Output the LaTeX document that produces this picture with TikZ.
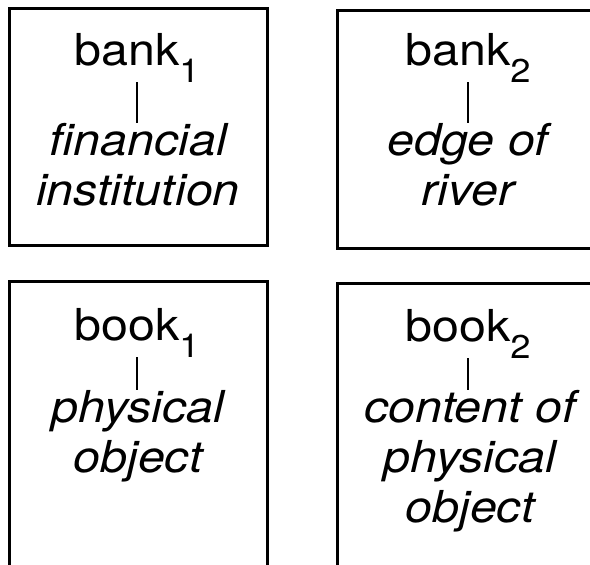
\documentclass[tikz,border=0pt]{standalone}
\usepackage{fontspec}
\setmainfont{TeX Gyre Heros}[FakeStretch=1.1]
\newcommand\sensenum[1]{\raisebox{-8.5pt}{\fontsize{16.5}{16.5}\selectfont #1}}

\begin{document}
\begin{tikzpicture}[x=0.5pt,y=-0.5pt,
    word/.style={anchor=base,inner sep=0pt,font=\fontsize{22}{25}\selectfont},
    gloss/.style={anchor=north,inner sep=0pt,align=center,font=\fontsize{22}{25}\selectfont\itshape},
    frame/.style={line width=1.5pt},
    tick/.style={line width=0.8pt}]
    \useasboundingbox (0,0) rectangle (590,564);
    \clip (0,0) rectangle (590,564);
    % the four sense boxes
    \draw[frame] (9,8) rectangle (267,245);
    \draw[frame] (337,10) rectangle (602,248);
    \draw[frame] (9,281) rectangle (267,600);
    \draw[frame] (337,283) rectangle (602,600);
    % words and their senses
    \node[word] (bank1) at (137,65) {bank\sensenum{1}};
    \node[gloss] (sense1) at (138,123) {financial\\institution};
    \node[word] (bank2) at (468,65) {bank\sensenum{2}};
    \node[gloss] (sense2) at (468,123) {edge of\\river};
    \node[word] (book1) at (137,340) {book\sensenum{1}};
    \node[gloss] (sense3) at (138,390) {physical\\object};
    \node[word] (book2) at (468,341) {book\sensenum{2}};
    \node[gloss] (sense4) at (470,390) {content of\\physical\\object};
    \draw[tick] (bank1.south) -- (bank1.south |- sense1.north);
    \draw[tick] (bank2.south) -- (bank2.south |- sense2.north);
    \draw[tick] (book1.south) -- (book1.south |- sense3.north);
    \draw[tick] (book2.south) -- (book2.south |- sense4.north);
\end{tikzpicture}
\end{document}
